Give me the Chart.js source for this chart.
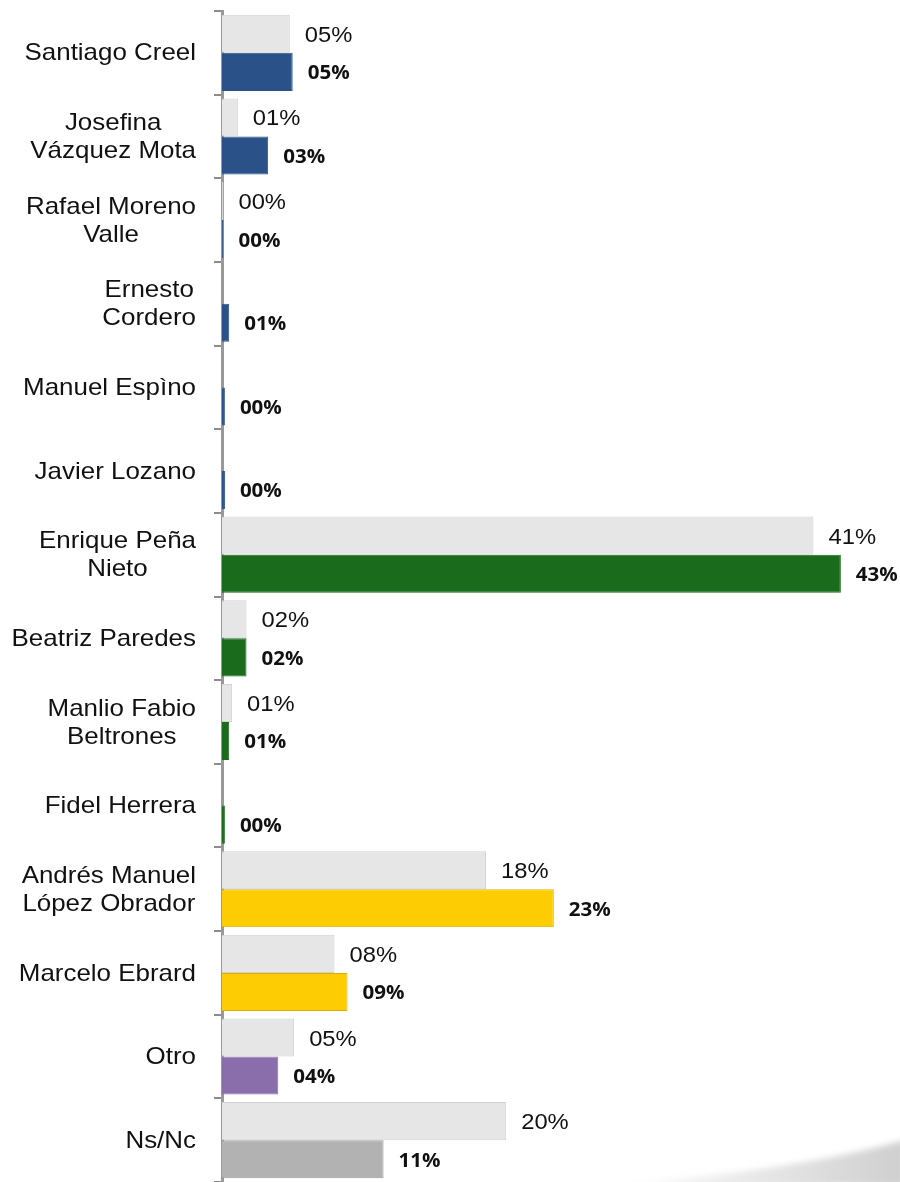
<!DOCTYPE html>
<html>
<head>
<meta charset="utf-8">
<script src="https://cdn.jsdelivr.net/npm/chart.js@4"></script>
<style>
  html, body { margin: 0; padding: 0; background: #fff; }
  #wrap { width: 900px; height: 1182px; position: relative; }
</style>
</head>
<body>
<div id="wrap"><canvas id="chart"></canvas></div>
<script>
// candidates (multi-line labels as arrays)
const categories = [
  'Santiago Creel', ['Josefina', 'Vázquez Mota'], ['Rafael Moreno', 'Valle'],
  ['Ernesto', 'Cordero'], 'Manuel Espìno', 'Javier Lozano', ['Enrique Peña', 'Nieto'],
  'Beatriz Paredes', ['Manlio Fabio', 'Beltrones'], 'Fidel Herrera',
  ['Andrés Manuel', 'López Obrador'], 'Marcelo Ebrard', 'Otro', 'Ns/Nc'
];
// light grey bars (previous measurement)
const previous = [4.7, 1.1, 0.1, null, null, null, 41.0, 1.7, 0.7, null, 18.3, 7.8, 5.0, 19.7];
// coloured bars (current measurement)
const current = [4.9, 3.2, 0.1, 0.5, 0.2, 0.2, 42.9, 1.7, 0.5, 0.2, 23.0, 8.7, 3.9, 11.2];

const blue = '#2a5288', green = '#1a6b1c', yellow = '#fecc02', purple = '#8a6eac', grey = '#b2b2b2';
const barColors = [blue, blue, blue, blue, blue, blue, green, green, green, green, yellow, yellow, purple, grey];
const barBorders = barColors.map(c => c === yellow ? '#d8b000' : c === grey ? '#9c9c9c' : c);

const STRETCH = 1.08;

function fmt(v) {
  return String(Math.round(v)).padStart(2, '0') + '%';
}

const labelPlugin = {
  id: 'labelPlugin',
  beforeDraw(chart) {
    // faint swoosh in the bottom-right corner
    const ctx = chart.ctx;
    ctx.save();
    const g = ctx.createLinearGradient(600, 0, 900, 0);
    g.addColorStop(0, 'rgba(160,160,160,0)');
    g.addColorStop(1, 'rgba(150,150,150,0.45)');
    ctx.fillStyle = g;
    ctx.filter = 'blur(3px)';
    ctx.beginPath();
    ctx.moveTo(600, 1186);
    ctx.quadraticCurveTo(790, 1172, 905, 1140);
    ctx.lineTo(905, 1186);
    ctx.closePath();
    ctx.fill();
    ctx.restore();
  },
  afterDatasetsDraw(chart) {
    const ctx = chart.ctx;
    chart.data.datasets.forEach((ds, di) => {
      const meta = chart.getDatasetMeta(di);
      meta.data.forEach((bar, i) => {
        const v = ds.data[i];
        if (v === null) return;
        ctx.save();
        ctx.font = di === 0 ? '22px "Liberation Sans"' : 'bold 19px "Open Sans"';
        ctx.fillStyle = '#111';
        ctx.textBaseline = 'middle';
        ctx.translate(bar.x + 15, bar.y + 2);
        ctx.scale(STRETCH, 1);
        ctx.fillText(fmt(v), 0, 0);
        ctx.restore();
      });
    });

    // category labels: block right aligned, lines centred within block
    const y = chart.scales.y;
    const right = chart.chartArea.left - 26;
    ctx.save();
    ctx.font = '24px "Liberation Sans"';
    ctx.fillStyle = '#111';
    categories.forEach((c, i) => {
      const lines = Array.isArray(c) ? c : [c];
      const block = Math.max(...lines.map(l => ctx.measureText(l).width * STRETCH));
      const cx = right - block / 2;
      const cy = y.getPixelForTick(i);
      lines.forEach((l, k) => {
        const ly = cy + (k - (lines.length - 1) / 2) * 28 + 1;
        ctx.save();
        ctx.translate(cx, ly);
        ctx.scale(STRETCH, 1);
        ctx.textAlign = 'center';
        ctx.textBaseline = 'middle';
        ctx.fillText(l, 0, 0);
        ctx.restore();
      });
    });
    ctx.restore();
  }
};

const ctx = document.getElementById('chart');

new Chart(ctx, {
  type: 'bar',
  data: {
    labels: categories,
    datasets: [{
      data: previous,
      backgroundColor: '#e6e6e6',
      borderColor: '#d2d2d2',
      borderWidth: 1,
      categoryPercentage: 0.91,
      barPercentage: 1
    }, {
      data: current,
      backgroundColor: barColors,
      borderColor: barBorders,
      borderWidth: 1,
      categoryPercentage: 0.91,
      barPercentage: 1
    }]
  },
  options: {
    indexAxis: 'y',
    responsive: true,
    maintainAspectRatio: false,
    animation: false,
    layout: { padding: { top: 11, right: 0, bottom: 0, left: 0 } },
    plugins: {
      legend: { display: false },
      tooltip: { enabled: false }
    },
    scales: {
      x: { display: false, min: 0, max: 47 },
      y: {
        offset: true,
        grid: { offset: true, drawOnChartArea: false, tickLength: 8, color: '#8c8c8c', lineWidth: 2 },
        border: { color: '#999999', width: 3 },
        ticks: { display: false },
        afterFit(scale) { scale.width = 222; }
      }
    }
  },
  plugins: [labelPlugin]
});
</script>
</body>
</html>
